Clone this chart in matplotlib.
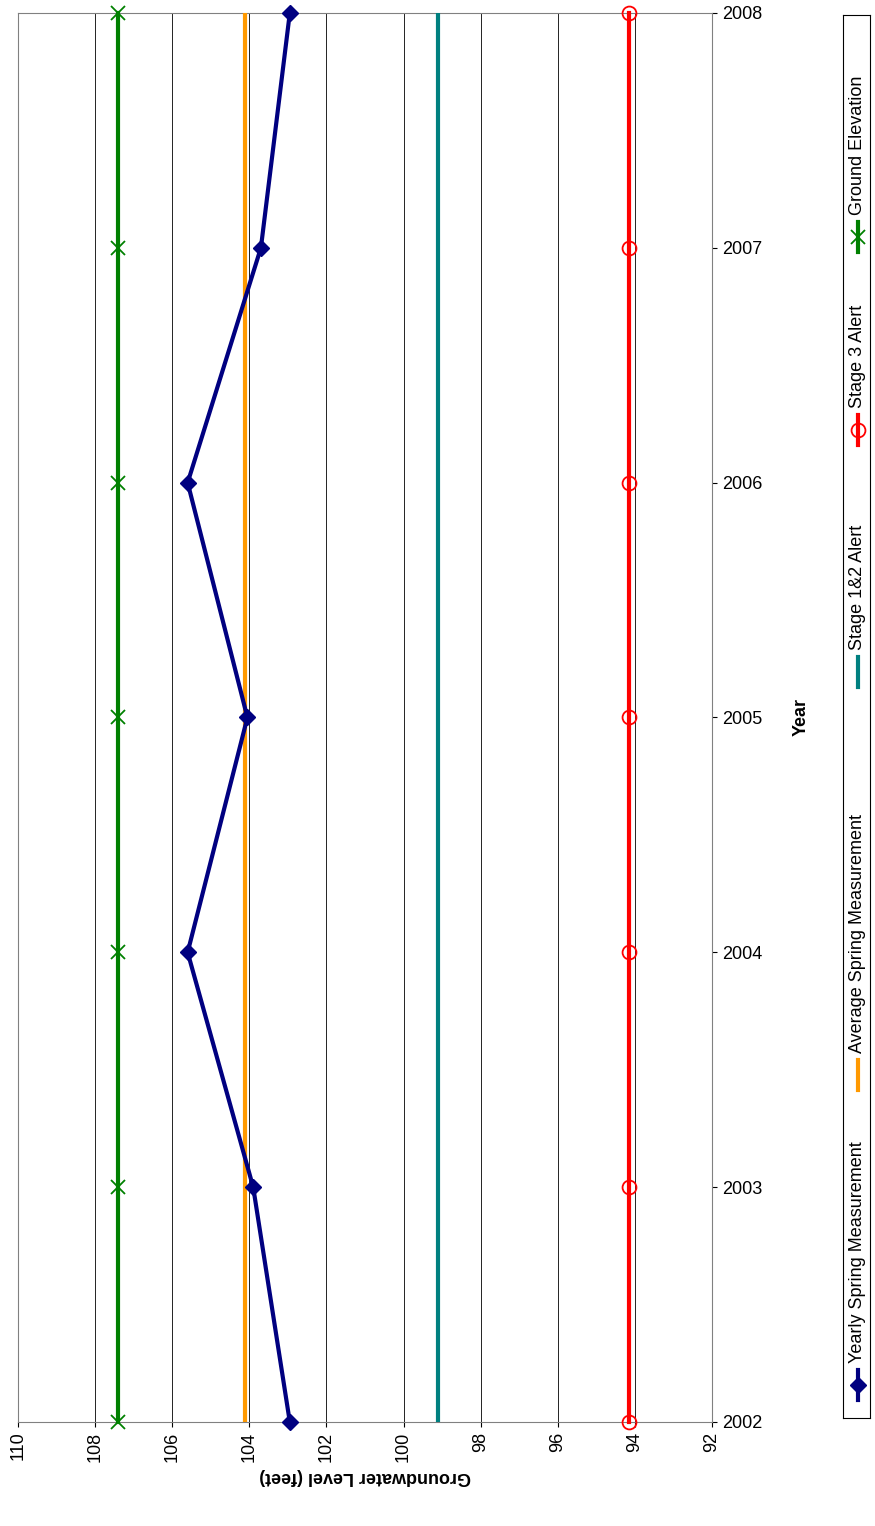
import matplotlib
matplotlib.use('Agg')
import matplotlib.pyplot as plt

years = [2002, 2003, 2004, 2005, 2006, 2007, 2008]
yearly = [102.95, 103.9, 105.6, 104.05, 105.6, 103.7, 102.95]
average = 104.1
stage12 = 99.1
stage3 = 94.15
ground = 107.4

W, H = 875, 1526
fig = plt.figure(figsize=(W / 100, H / 100), dpi=100)
plt.rcParams['font.family'] = ['Liberation Sans', 'DejaVu Sans']

# plot area in pixels: x 18..712, y 13..1422
ax = fig.add_axes([18 / W, 1 - 1422 / H, (712 - 18) / W, (1422 - 13) / H])
ax.set_xlim(110, 92)
ax.set_ylim(2002, 2008)

ax.plot(yearly, years, color='#000080', marker='D', markersize=8, lw=3,
        zorder=5, clip_on=False)
ax.plot([average] * len(years), years, color='#FF9900', lw=3, zorder=4)
ax.plot([stage12] * len(years), years, color='#008080', lw=3, zorder=4)
ax.plot([stage3] * len(years), years, color='#FF0000', lw=3, marker='o',
        markersize=10, markerfacecolor='none', markeredgewidth=1.3,
        zorder=4, clip_on=False)
ax.plot([ground] * len(years), years, color='#008000', lw=3, marker='x',
        markersize=10, markeredgewidth=1.3, zorder=4, clip_on=False)

ax.set_xticks(range(92, 111, 2))
ax.grid(axis='x', color='black', lw=0.6)
ax.tick_params(axis='x', labelrotation=90, labelsize=13, direction='out')
ax.yaxis.tick_right()
ax.yaxis.set_label_position('right')
ax.set_yticks(years)
ax.tick_params(axis='y', labelsize=13)
for s in ax.spines.values():
    s.set_color('#808080')
ax.set_xlabel('Groundwater Level (feet)', fontsize=13, fontweight='bold', rotation=180)
ax.set_ylabel('Year', fontsize=13, fontweight='bold', rotation=90, labelpad=22)

# vertical legend drawn by hand
lax = fig.add_axes([843 / W, 1 - 1418 / H, (870 - 843) / W, (1418 - 15) / H])
lax.set_xlim(843, 870)
lax.set_ylim(1418, 15)
lax.set_xticks([])
lax.set_yticks([])
for s in lax.spines.values():
    s.set_color('black')
entries = [
    ('Yearly Spring Measurement', 1385, dict(color='#000080', marker='D', markersize=8)),
    ('Average Spring Measurement', 1075, dict(color='#FF9900')),
    ('Stage 1&2 Alert', 672, dict(color='#008080')),
    ('Stage 3 Alert', 430, dict(color='#FF0000', marker='o', markersize=10,
                                markerfacecolor='none', markeredgewidth=1.3)),
    ('Ground Elevation', 237, dict(color='#008000', marker='x', markersize=10,
                                   markeredgewidth=1.3)),
]
for label, yc, style in entries:
    lax.plot([858, 858], [yc + 15, yc - 15], lw=3, color=style['color'])
    if 'marker' in style:
        lax.plot([858], [yc], linestyle='none', **style)
    lax.text(858, yc - 22, label, rotation=90, ha='center', va='bottom',
             fontsize=13)

fig.savefig('out.png', dpi=100)
